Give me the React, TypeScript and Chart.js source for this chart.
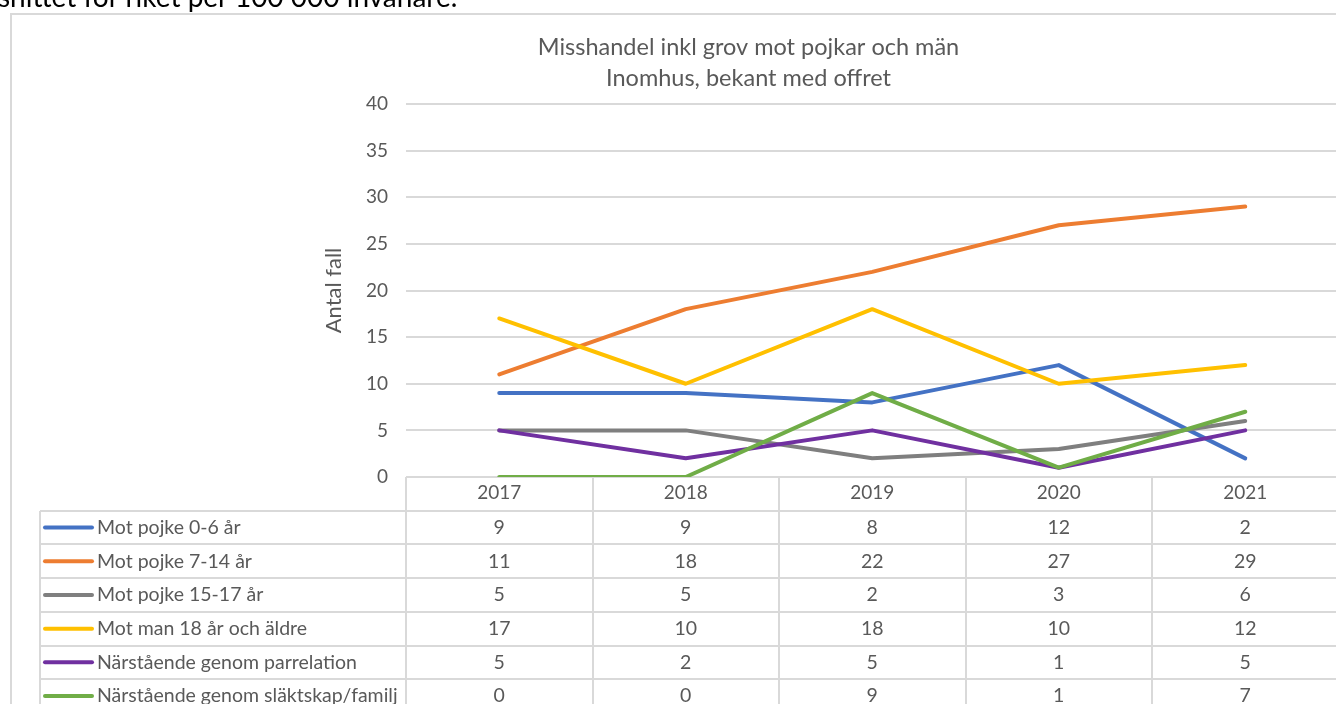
import React, { useEffect, useRef } from "react";
import { Chart, registerables } from "chart.js";

Chart.register(...registerables);

const years = ["2017", "2018", "2019", "2020", "2021"];
const seriesNames = [
  "Mot pojke 0-6 år",
  "Mot pojke 7-14 år",
  "Mot pojke 15-17 år",
  "Mot man 18 år och äldre",
  "Närstående genom parrelation",
  "Närstående genom släktskap/familj",
];
const pojke0to6 = [9, 9, 8, 12, 2];
const pojke7to14 = [11, 18, 22, 27, 29];
const pojke15to17 = [5, 5, 2, 3, 6];
const man18plus = [17, 10, 18, 10, 12];
const parrelation = [5, 2, 5, 1, 5];
const slaktskap = [0, 0, 9, 1, 7];
const seriesValues = [pojke0to6, pojke7to14, pojke15to17, man18plus, parrelation, slaktskap];
const seriesColors = ["#4472C4", "#ED7D31", "#7F7F7F", "#FFC000", "#7030A0", "#70AD47"];
const titleLines = ["Misshandel inkl grov mot pojkar och män", "Inomhus, bekant med offret"];
const yAxisTitle = "Antal fall";
const yMin = 0;
const yMax = 40;
const yStep = 5;
const topText = "snittet för riket per 100 000 invånare.";

const FONT = "Lato, 'Liberation Sans', sans-serif";
const TEXT = "#595959";
const GRID = "#d9d9d9";
const W = 1500;
const H = 720;

const tablePlugin = {
  id: "dataTable",
  beforeDraw(chart: any) {
    const ctx = chart.ctx;
    ctx.save();
    ctx.fillStyle = "#ffffff";
    ctx.fillRect(0, 0, chart.width, chart.height);
    ctx.strokeStyle = GRID;
    ctx.lineWidth = 2;
    ctx.strokeRect(11, 14, chart.width + 50, chart.height + 50);
    ctx.restore();
  },
  afterDraw(chart: any) {
    const { ctx, chartArea } = chart;
    const x = chart.scales.x;
    const n = years.length;
    const step = x.getPixelForValue(1) - x.getPixelForValue(0);
    const top = chartArea.bottom;
    const rowH = 33.7;
    const tableLeft = 40;
    const rows = seriesNames.length;
    const bottom = top + rowH * (rows + 1);
    ctx.save();
    ctx.strokeStyle = GRID;
    ctx.lineWidth = 2;
    ctx.beginPath();
    for (let r = 1; r <= rows + 1; r++) {
      const y = Math.round(top + r * rowH);
      ctx.moveTo(tableLeft, y);
      ctx.lineTo(chartArea.right, y);
    }
    ctx.moveTo(tableLeft, Math.round(top + rowH));
    ctx.lineTo(tableLeft, bottom);
    ctx.moveTo(chartArea.left, top);
    ctx.lineTo(chartArea.left, bottom);
    for (let i = 0; i < n; i++) {
      const bx = Math.round(x.getPixelForValue(i) + step / 2);
      ctx.moveTo(bx, top);
      ctx.lineTo(bx, bottom);
    }
    ctx.stroke();

    ctx.font = `19.5px ${FONT}`;
    ctx.textBaseline = "middle";
    for (let r = 0; r < rows; r++) {
      const cy = top + (r + 1.5) * rowH;
      ctx.strokeStyle = seriesColors[r];
      ctx.lineWidth = 4;
      ctx.lineCap = "round";
      ctx.beginPath();
      ctx.moveTo(45, cy);
      ctx.lineTo(92, cy);
      ctx.stroke();
      ctx.fillStyle = TEXT;
      ctx.textAlign = "left";
      ctx.fillText(seriesNames[r], 97, cy);
      ctx.textAlign = "center";
      for (let i = 0; i < n; i++) {
        ctx.fillText(String(seriesValues[r][i]), x.getPixelForValue(i), cy);
      }
    }
    ctx.restore();
  },
};

export default function App() {
  const canvasRef = useRef<HTMLCanvasElement | null>(null);

  useEffect(() => {
    const canvas = canvasRef.current;
    if (!canvas) return;
    const chart = new Chart(canvas, {
      type: "line",
      data: {
        labels: years,
        datasets: seriesNames.map((name, i) => ({
          label: name,
          data: seriesValues[i],
          borderColor: seriesColors[i],
          backgroundColor: seriesColors[i],
          borderWidth: 4,
          borderCapStyle: "round",
          borderJoinStyle: "round",
          pointRadius: 0,
          pointHoverRadius: 0,
          tension: 0,
          fill: false,
          order: seriesNames.length - i,
        })),
      },
      options: {
        responsive: false,
        animation: false,
        devicePixelRatio: 1,
        layout: { padding: { left: 10, top: 14, right: W - 1487, bottom: 0 } },
        plugins: {
          legend: { display: false },
          tooltip: { enabled: false },
          title: {
            display: true,
            text: titleLines,
            color: TEXT,
            font: { family: FONT, size: 23.5, weight: "normal", lineHeight: 31 / 23.5 },
            padding: { top: 17.5, bottom: 10.5 },
          },
        },
        scales: {
          x: {
            type: "category",
            offset: true,
            grid: { display: false, drawTicks: false },
            border: { display: false },
            ticks: { color: TEXT, font: { family: FONT, size: 19 }, padding: 4, maxRotation: 0 },
            afterFit: (s: any) => {
              s.height = H - 477;
            },
          },
          y: {
            type: "linear",
            position: "left",
            min: yMin,
            max: yMax,
            grid: { color: GRID, lineWidth: 2, drawTicks: false },
            border: { display: false },
            ticks: { stepSize: yStep, color: TEXT, font: { family: FONT, size: 19 }, padding: 18 },
            title: {
              display: true,
              text: yAxisTitle,
              color: TEXT,
              font: { family: FONT, size: 22, lineHeight: 1.2 },
              padding: { top: 310.8, bottom: 0 },
            },
            afterFit: (s: any) => {
              s.width = 396;
            },
          },
          yR: {
            type: "linear",
            position: "right",
            display: true,
            grid: { display: false, drawTicks: false },
            border: { display: false },
            ticks: { display: false },
            afterFit: (s: any) => {
              s.width = 148.5;
            },
          },
        },
      },
      plugins: [tablePlugin],
    } as any);
    return () => chart.destroy();
  }, []);

  return (
    <div
      style={{
        position: "fixed",
        left: 0,
        top: 0,
        width: 1336,
        height: 704,
        overflow: "hidden",
        background: "#ffffff",
      }}
    >
      <canvas
        ref={canvasRef}
        width={W}
        height={H}
        style={{ position: "absolute", left: 0, top: 0, width: W, height: H }}
      />
      <div
        style={{
          position: "absolute",
          left: -2,
          top: -18,
          fontFamily: FONT,
          fontSize: 28,
          lineHeight: "28px",
          color: "#000000",
          whiteSpace: "nowrap",
        }}
      >
        {topText}
      </div>
    </div>
  );
}
